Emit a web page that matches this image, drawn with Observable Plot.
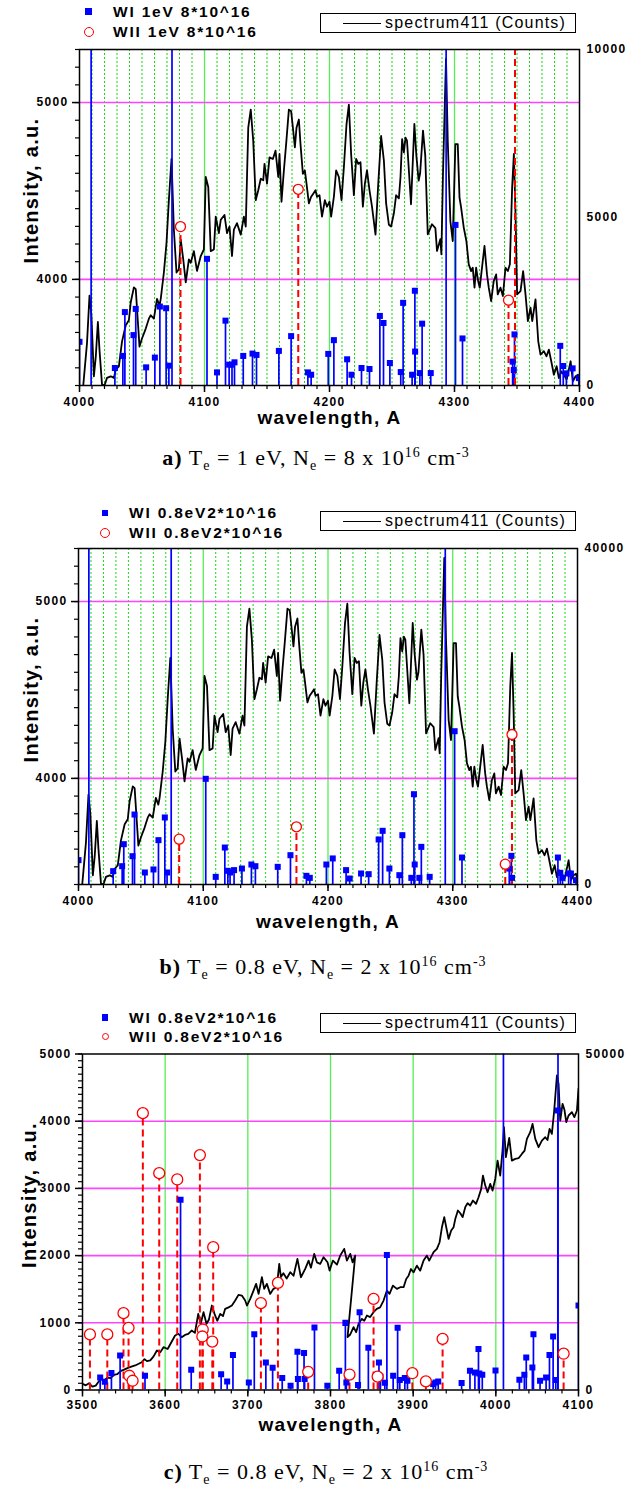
<!DOCTYPE html>
<html>
<head>
<meta charset="utf-8">
<script src="https://cdn.jsdelivr.net/npm/d3@7"></script>
<script src="https://cdn.jsdelivr.net/npm/@observablehq/plot@0.6"></script>
<style>
  body { margin: 0; background: white; }
  #root { position: relative; width: 641px; height: 1486px; overflow: hidden; background: white; }
  #root svg { position: absolute; left: 0; }
  svg text { letter-spacing: 1.3px; }
  g[aria-label="xlabel"] text { letter-spacing: 2.2px; }
  g[aria-label="ylabel"] text { letter-spacing: 0.3px; }
  .lg { position: absolute; font: bold 15.5px "Liberation Sans", Arial, sans-serif; letter-spacing: 1.8px; line-height: 18px; white-space: nowrap; color: black; }
  .sq { position: absolute; width: 6.5px; height: 6.5px; background: #0000ff; }
  .ci { position: absolute; border: 1.3px solid #ff0000; border-radius: 50%; background: white; box-sizing: border-box; }
  .box { position: absolute; border: 1px solid black; box-sizing: border-box; background: white; }
  .box .ln { position: absolute; border-top: 1.5px solid black; }
  .box .tx { position: absolute; font: 16px "Liberation Sans", Arial, sans-serif; letter-spacing: 1.2px; white-space: nowrap; line-height: 18px; }
  .cap { position: absolute; width: 500px; text-align: center; font: 22px "Liberation Serif", "Times New Roman", serif; letter-spacing: 1px; line-height: 30px; height: 30px; white-space: nowrap; }
  .cap sub, .cap sup { font-size: 14px; line-height: 0; }
</style>
</head>
<body>
<div id="root"></div>
<script>
// ---------- data ----------
// spectrum411 (left axis, Intensity a.u.), same spectrum shown in panels a and b
const spec411_ab = [
[4003,3400],[4006,3640],[4008,3908],[4009.5,3800],[4011.5,3452],[4013,3560],[4014.7,3759],[4016,3600],[4018,3406],[4020,3400],[4022,3443],[4025,3452],[4027.5,3443],[4029,3489],[4031.5,3508],[4034,3648],[4037,3741],[4039.5,3769],[4041,3871],[4043.5,3955],[4045,3945],[4046.7,3759],[4048,3620],[4050,3666],[4053,3722],[4055.5,3778],[4057,3797],[4059.5,3778],[4062,3890],[4064,3852],[4065,3890],[4067.5,4039],[4069.6,4206],[4071.5,4448],[4073.6,4681],[4075.5,4281],[4077.6,4039],[4079.5,4057],[4081,4225],[4083,4113],[4085,3983],[4087.5,4113],[4089,4094],[4091.5,4160],[4094,4048],[4097,4132],[4099.5,4169],[4101,4579],[4103,4523],[4105,4160],[4107.5,4169],[4109,4355],[4111.5,4262],[4113,4337],[4116,4364],[4118,4262],[4120,4299],[4122,4132],[4123.5,4281],[4126,4318],[4129,4253],[4131.5,4355],[4133,4299],[4135,4858],[4137,4960],[4139,4783],[4141,4448],[4143,4504],[4145,4569],[4147,4560],[4148,4653],[4150,4541],[4152,4690],[4154.7,4681],[4156.8,4728],[4159,4579],[4160,4709],[4161.6,4439],[4163.5,4616],[4165.3,4765],[4167.5,4960],[4169.3,4951],[4171,4839],[4172.3,4746],[4173.6,4858],[4175.5,4904],[4176.8,4765],[4178.7,4597],[4180.3,4616],[4181.3,4560],[4183.5,4430],[4185.3,4467],[4187,4485],[4188.8,4504],[4190,4467],[4192,4476],[4194,4355],[4196.3,4448],[4198,4411],[4200,4439],[4201.3,4355],[4203.5,4467],[4205.3,4616],[4207.5,4579],[4209.6,4448],[4211.5,4634],[4213.6,4876],[4215.5,4988],[4217.3,4709],[4219.5,4476],[4221.3,4681],[4223,4653],[4224.8,4662],[4226.7,4411],[4228.3,4541],[4230,4616],[4232,4504],[4234,4411],[4236.8,4253],[4239,4541],[4241.3,4811],[4243.5,4672],[4245.3,4430],[4247.5,4309],[4249.3,4299],[4251.5,4374],[4253.3,4476],[4255.5,4458],[4256.8,4579],[4258.1,4793],[4259.5,4718],[4260.8,4802],[4262,4784],[4265.2,4425],[4267.9,4879],[4269.5,4700],[4271.3,4558],[4272.5,4600],[4274.8,4841],[4276.6,4700],[4278.6,4255],[4282,4312],[4284.7,4290],[4286,4161],[4288.7,4228],[4289.5,4142],[4290.8,4600],[4293.2,5247],[4294.6,4784],[4296.7,4330],[4298.6,4217],[4300.7,4765],[4302.6,4765],[4304,4463],[4305.3,4406],[4307.4,4293],[4309.5,4217],[4311.4,4085],[4313.3,4047],[4314.6,4066],[4316,3953],[4317.3,4066],[4318.9,3991],[4320.2,3953],[4322,4066],[4324,4189],[4326,4028],[4327.4,3953],[4329.3,3877],[4331.4,3991],[4333.3,4028],[4334.6,3915],[4336.8,3953],[4338.7,3906],[4340.8,4066],[4342.7,4047],[4344.3,4085],[4346.1,4520],[4347.5,4709],[4348.8,4369],[4350.1,3915],[4352.8,3934],[4354.9,4047],[4356.8,3915],[4358.7,3764],[4360.8,3840],[4362.2,3764],[4364.8,3887],[4367,3650],[4368.8,3575],[4371.5,3594],[4373.6,3565],[4375.5,3603],[4377.4,3537],[4379.5,3461],[4381.7,3509],[4383.5,3442],[4385.4,3480],[4387.5,3461],[4389.7,3433],[4392.9,3537],[4394.7,3424],[4396.9,3452],[4398.8,3461],[4400,3424]
];
// spectrum411 in panel c (left axis)
const spec411_c = [
[3500,90],[3504,70],[3508,100],[3512,50],[3516,65],[3519,115],[3522,165],[3526,140],[3530,185],[3534,175],[3538,225],[3542,235],[3546.5,285],[3549.6,300],[3555,330],[3560,350],[3563.7,365],[3568,390],[3571.8,414],[3575,460],[3578,430],[3582,440],[3586,500],[3590,588],[3594,560],[3598,637],[3603,610],[3607,700],[3612,811],[3616,836],[3620,786],[3624,820],[3628,836],[3632,885],[3636,850],[3640,1133],[3643,985],[3646.4,1158],[3650,985],[3653,1050],[3656.5,1257],[3659.7,1133],[3663,1030],[3666.6,1133],[3670,1100],[3672.6,1208],[3676.7,1230],[3680.7,1257],[3684.7,1331],[3688.7,1415],[3692.8,1405],[3696.8,1331],[3698.9,1257],[3702.9,1356],[3706.9,1480],[3710,1580],[3713,1430],[3717,1678],[3719.8,1505],[3723,1580],[3727,1430],[3731,1505],[3735,1530],[3738,1876],[3740,1680],[3743,1738],[3747,1660],[3751.3,1753],[3755.3,1700],[3760,1951],[3764.2,1678],[3769.4,1802],[3773.5,1926],[3776.3,1820],[3780.3,2026],[3783.5,1900],[3787.6,1876],[3791.6,1976],[3796.4,1900],[3798.9,1778],[3802.9,1926],[3807.8,1866],[3811.8,2001],[3816.6,2100],[3819.8,1926],[3823.9,2026],[3826.7,1900],[3829.9,2001],
[3820.6,786],[3823.9,826],[3827.9,935],[3831,860],[3834,985],[3838,1059],[3840.8,1030],[3844,1108],[3848,1085],[3852,1158],[3856,1208],[3860,1230],[3864.2,1331],[3868.2,1480],[3871.4,1430],[3875.5,1554],[3880.3,1505],[3884.4,1530],[3888.4,1530],[3891.6,1653],[3894.4,1700],[3897.3,1800],[3900.5,1751],[3904.5,1850],[3908.5,1776],[3912.6,1926],[3916.6,2001],[3919.4,1926],[3924.7,2051],[3928.7,2100],[3932,2199],[3934.8,2423],[3937.6,2572],[3940.8,2373],[3942.8,2249],[3946,2373],[3948.9,2423],[3951,2547],[3954.1,2671],[3957,2630],[3959.8,2572],[3963,2721],[3965.8,2780],[3969,2745],[3972.3,2820],[3976,2770],[3979.1,2869],[3982.3,2993],[3984.4,3191],[3987.2,3042],[3990,2943],[3993.2,3067],[3996,2968],[3999.3,3141],[4002.1,3414],[4005.3,3191],[4008.1,3563],[4009.8,3910],[4012.2,3464],[4016.2,3750],[4019.4,3414],[4023.5,3439],[4027.5,3449],[4031.5,3513],[4034.8,3563],[4037.6,3737],[4041.6,3836],[4044.4,3960],[4047.7,3737],[4051.7,3613],[4055.7,3712],[4059.8,3762],[4062.5,3720],[4065,3886],[4067.8,3811],[4070.6,4159],[4073.9,4680],[4075.9,4556],[4077.9,4010],[4080.7,4258],[4083,4170],[4085.2,3985],[4088,4085],[4092,4134],[4095,4060],[4098.1,4159],[4100,4481]
];
// theoretical lines (right axis values)
const WI_a = [[4000,1300],[4009.3,15000],[4028.3,520],[4034.7,880],[4036.3,2185],[4043.2,1500],[4045,2280],[4053.3,540],[4060.3,830],[4064.3,2350],[4069.3,2300],[4071.5,590],[4074,15000],[4102,3770],[4110,390],[4116.8,1930],[4119.7,620],[4122,620],[4124,690],[4131,880],[4138.4,950],[4141.6,910],[4159.5,1030],[4169.3,1470],[4182.7,390],[4185.3,320],[4199,940],[4203.5,1350],[4214.1,780],[4217.6,320],[4225.6,520],[4232,490],[4240.3,2070],[4243.2,1860],[4248.3,670],[4257,400],[4258.9,2460],[4266.1,320],[4268.3,2820],[4268.5,1010],[4272.3,370],[4274.1,1840],[4281,370],[4293.3,15000],[4300.8,4780],[4306.4,1400],[4346.5,710],[4347.4,460],[4348,1520],[4384.6,1180],[4387,580],[4389.5,360],[4394.5,510],[4399.5,220]];
const WII_a = [[4080.8,4730],[4175,5840],[4343.2,2540],[4348.4,15000]];
const WI_b = [[4000,2900],[4008.3,60000],[4027.8,1590],[4035,2180],[4036.3,4800],[4043.3,3370],[4044.9,8330],[4053.2,1430],[4060.1,1790],[4064.1,5280],[4069.2,7980],[4071,1430],[4074.3,60000],[4102,12580],[4110,910],[4117.3,4400],[4119.7,1630],[4121.5,1430],[4124.7,1710],[4131,1900],[4138.6,2380],[4141.8,2180],[4159.7,2100],[4169.9,3490],[4182.7,1030],[4185.4,790],[4198.7,2380],[4203.8,3100],[4214.5,1710],[4217.4,710],[4226.5,1310],[4232.6,1230],[4240.6,5360],[4243.8,6390],[4249.2,1900],[4257.2,1110],[4259.6,5870],[4266.8,790],[4268.9,10750],[4269.5,2380],[4273.2,790],[4274.8,4480],[4281.5,910],[4294,60000],[4301.5,18250],[4307.4,3210],[4345.3,1900],[4347,3410],[4347.5,790],[4384.3,3210],[4386.2,1390],[4388,790],[4392.9,1310],[4394.7,1310],[4398.8,520]];
const WII_b = [[4080.7,5400],[4174.7,6870],[4342.1,2420],[4347.5,17860]];
const WI_c = [[3521.4,1870],[3527,1230],[3535,2510],[3545.5,5150],[3575.6,2120],[3618.6,28300],[3631.5,3000],[3667.7,2360],[3675,1280],[3682,5200],[3701.2,1130],[3707.8,8300],[3721.8,4100],[3730,3300],[3741.6,1770],[3751.7,640],[3760,5700],[3760.6,1630],[3768,5500],[3768.7,1630],[3780.6,9300],[3796.2,640],[3810.5,2860],[3818,9990],[3819.2,1130],[3833.3,740],[3835.2,11580],[3845.8,6300],[3858.6,4100],[3860.4,1970],[3865.7,1080],[3868.2,20100],[3875.8,2120],[3881.2,9260],[3883.8,1480],[3889.9,1770],[3893.1,1380],[3924.2,890],[3927,1130],[3930.3,1280],[3958.6,1030],[3968.7,2860],[3974.7,2610],[3979,6100],[3980,2460],[3983.6,2270],[3999.6,2900],[4009.2,80000],[4028.5,1530],[4034.5,2270],[4036.8,4830],[4044.2,3350],[4045.5,8300],[4053.5,1380],[4060.8,1870],[4064.9,5200],[4069.3,7950],[4072.5,1480],[4075,41600],[4075.2,80000],[4100,12570]];
const WII_c = [[3509,8270],[3530,8270],[3549.6,11430],[3555.7,9250],[3556.6,2120],[3560.6,1380],[3573,41200],[3592.8,32270],[3614.6,31330],[3642,34960],[3645.5,9000],[3645,7960],[3658.1,21250],[3657,7200],[3715.8,12920],[3736.4,15940],[3773,2700],[3823,2300],[3852.1,13560],[3857,2000],[3899,2500],[3915.4,1280],[3935.6,7610],[4082,5400]];

// axis ticks
const ticksX_ab = [4000, 4100, 4200, 4300, 4400];
const ticksX_c = [3500, 3600, 3700, 3800, 3900, 4000, 4100];
const ticksLeft_ab = [4000, 5000];
const ticksLeft_c = [0, 1000, 2000, 3000, 4000, 5000];
const ticksRight_a = [0, 5000, 10000];
const ticksRight_b = [0, 40000];
const ticksRight_c = [0, 50000];

// legend / caption texts
const legendA = ["WI 1eV 8*10^16", "WII 1eV 8*10^16"];
const legendBC = ["WI 0.8eV2*10^16", "WII 0.8eV2*10^16"];
const specLegend = "spectrum411 (Counts)";
const captions = [
  ["a)", "1", "8"],
  ["b)", "0.8", "2"],
  ["c)", "0.8", "2"]
];

// ---------- drawing ----------
const root = document.getElementById("root");
const fmt = d3.format("d");

function panel(cfg) {
  const [y0, y1] = cfg.y;
  const toL = v => y0 + v / cfg.rightMax * (y1 - y0);
  const fromL = v => (v - y0) / (y1 - y0) * cfg.rightMax;
  const xs = d => d[0];
  const marks = [];
  if (cfg.minorGrid) marks.push(Plot.ruleX(cfg.minorGrid, {stroke: "#11dd11", strokeWidth: 1, strokeDasharray: "2,2"}));
  marks.push(Plot.ruleX(cfg.vLines, {stroke: "#55ee55", strokeWidth: 1.3}));
  marks.push(Plot.ruleY(cfg.hLines, {stroke: "#ff44ff", strokeWidth: 1.6}));
  marks.push(Plot.line(cfg.spec, {x: xs, y: d => d[1], stroke: "black", strokeWidth: 1.8, clip: true}));
  marks.push(Plot.ruleX(cfg.wi, {x: xs, y1: () => y0, y2: d => toL(d[1]), stroke: "#0000ff", strokeWidth: 1.7, clip: true}));
  marks.push(Plot.ruleX(cfg.wii, {x: xs, y1: () => y0, y2: d => toL(d[1]), stroke: "#ff0000", strokeWidth: 2, strokeDasharray: "7,4", clip: true}));
  marks.push(Plot.dot(cfg.wi, {x: xs, y: d => toL(d[1]), symbol: "square", r: 3.4, fill: "#0000ff", clip: true}));
  marks.push(Plot.dot(cfg.wii, {x: xs, y: d => toL(d[1]), r: cfg.circleR, fill: "white", stroke: "#ff0000", strokeWidth: 1.3, clip: true}));
  marks.push(Plot.frame({stroke: "black", strokeWidth: 1.5}));
  marks.push(Plot.axisX({ticks: cfg.majorX, tickSize: 7, tickPadding: cfg.xPad, tickFormat: fmt, strokeWidth: 1.5, label: null}));
  marks.push(Plot.axisX({ticks: cfg.minorX, tickSize: 4, tickFormat: () => "", strokeWidth: 1.2, label: null}));
  marks.push(Plot.axisY({ticks: cfg.leftMajor, tickSize: 7, tickPadding: 4, tickFormat: fmt, strokeWidth: 1.5, label: null}));
  marks.push(Plot.axisY({ticks: cfg.leftMinor, tickSize: 4, tickFormat: () => "", strokeWidth: 1.2, label: null}));
  marks.push(Plot.axisY({anchor: "right", ticks: cfg.rightTicks.map(toL), tickSize: 0, tickPadding: 7,
    tickFormat: v => fmt(Math.round(fromL(v))), label: null}));
  marks.push(Plot.text(["wavelength, A"], {text: d => d, frameAnchor: "bottom", dy: cfg.xlDy, fontSize: 19, fontWeight: "bold", ariaLabel: "xlabel"}));
  marks.push(Plot.text(["Intensity, a.u."], {text: d => d, frameAnchor: "left", textAnchor: "middle", dx: cfg.ylDx, dy: -27, rotate: -90, fontSize: 20, fontWeight: "bold", ariaLabel: "ylabel"}));

  const svg = Plot.plot({
    width: 641, height: 440,
    marginTop: cfg.mt, marginBottom: 440 - cfg.mt - 336, marginLeft: cfg.ml, marginRight: 641 - cfg.xr,
    x: {domain: cfg.x},
    y: {domain: cfg.y},
    style: {fontFamily: "'Liberation Sans', Arial, sans-serif", fontSize: "12px", fontWeight: "bold", background: "transparent", color: "black"},
    marks
  });
  svg.style.top = cfg.top + "px";
  root.appendChild(svg);
}

function legend(cfg, labels) {
  const mk = (cls, style) => { const d = document.createElement("div"); d.className = cls; Object.assign(d.style, style); root.appendChild(d); return d; };
  mk("sq", {left: (cfg.mx - 3.25) + "px", top: (cfg.y1 - 3.25) + "px"});
  mk("ci", {left: (cfg.mx - cfg.cd / 2) + "px", top: (cfg.y2 - cfg.cd / 2) + "px", width: cfg.cd + "px", height: cfg.cd + "px"});
  mk("lg", {left: cfg.tx + "px", top: (cfg.y1 - 9) + "px"}).textContent = labels[0];
  mk("lg", {left: cfg.tx + "px", top: (cfg.y2 - 9) + "px"}).textContent = labels[1];
  const box = mk("box", {left: "320px", top: cfg.by + "px", width: "256px", height: "20px"});
  const ln = document.createElement("div"); ln.className = "ln";
  Object.assign(ln.style, {left: "22px", top: "9px", width: "38px"}); box.appendChild(ln);
  const tx = document.createElement("div"); tx.className = "tx";
  Object.assign(tx.style, {left: "64px", top: "0px"}); tx.textContent = specLegend; box.appendChild(tx);
}

function caption(c, cx, cy) {
  const d = document.createElement("div");
  d.className = "cap";
  d.style.left = (cx - 250) + "px";
  d.style.top = (cy - 15) + "px";
  d.innerHTML = `<b>${c[0]}</b> T<sub>e</sub> = ${c[1]} eV, N<sub>e</sub> = ${c[2]} x 10<sup>16</sup> cm<sup>-3</sup>`;
  root.appendChild(d);
}

const minorAB = d3.range(4010, 4400, 10).filter(v => v % 100 !== 0);
const common_ab = {
  x: [4000, 4400], y: [3400, 5300], spec: spec411_ab,
  minorGrid: minorAB, vLines: [4100, 4200, 4300], hLines: [4000, 5000],
  majorX: ticksX_ab, minorX: d3.range(4000, 4401, 10),
  leftMajor: ticksLeft_ab, leftMinor: d3.range(3400, 5301, 100), circleR: 5, xPad: 5
};

panel({...common_ab, top: 0, mt: 49, ml: 79, xr: 579, rightMax: 10000, rightTicks: ticksRight_a,
  wi: WI_a, wii: WII_a, xlDy: 38, ylDx: -48});
panel({...common_ab, top: 500, mt: 48, ml: 78, xr: 577, rightMax: 40000, rightTicks: ticksRight_b,
  wi: WI_b, wii: WII_b, xlDy: 43, ylDx: -47});
panel({top: 1000, mt: 53.5, ml: 82, xr: 578, x: [3500, 4100], y: [0, 5000], spec: spec411_c,
  minorGrid: null, vLines: [3600, 3700, 3800, 3900, 4000], hLines: [1000, 2000, 3000, 4000],
  majorX: ticksX_c, minorX: d3.range(3500, 4101, 20), leftMajor: ticksLeft_c, leftMinor: d3.range(0, 5001, 100),
  rightMax: 50000, rightTicks: ticksRight_c, wi: WI_c, wii: WII_c, circleR: 5.5, xPad: 3, xlDy: 40.5, ylDx: -53});

legend({mx: 88.5, tx: 113, y1: 11.7, y2: 32.3, cd: 10, by: 13}, legendA);
legend({mx: 105, tx: 129, y1: 513, y2: 533, cd: 10, by: 511}, legendBC);
legend({mx: 105, tx: 129, y1: 1017.7, y2: 1036.7, cd: 7, by: 1013}, legendBC);

caption(captions[0], 316, 458);
caption(captions[1], 323, 967);
caption(captions[2], 326, 1471.7);
</script>
</body>
</html>
